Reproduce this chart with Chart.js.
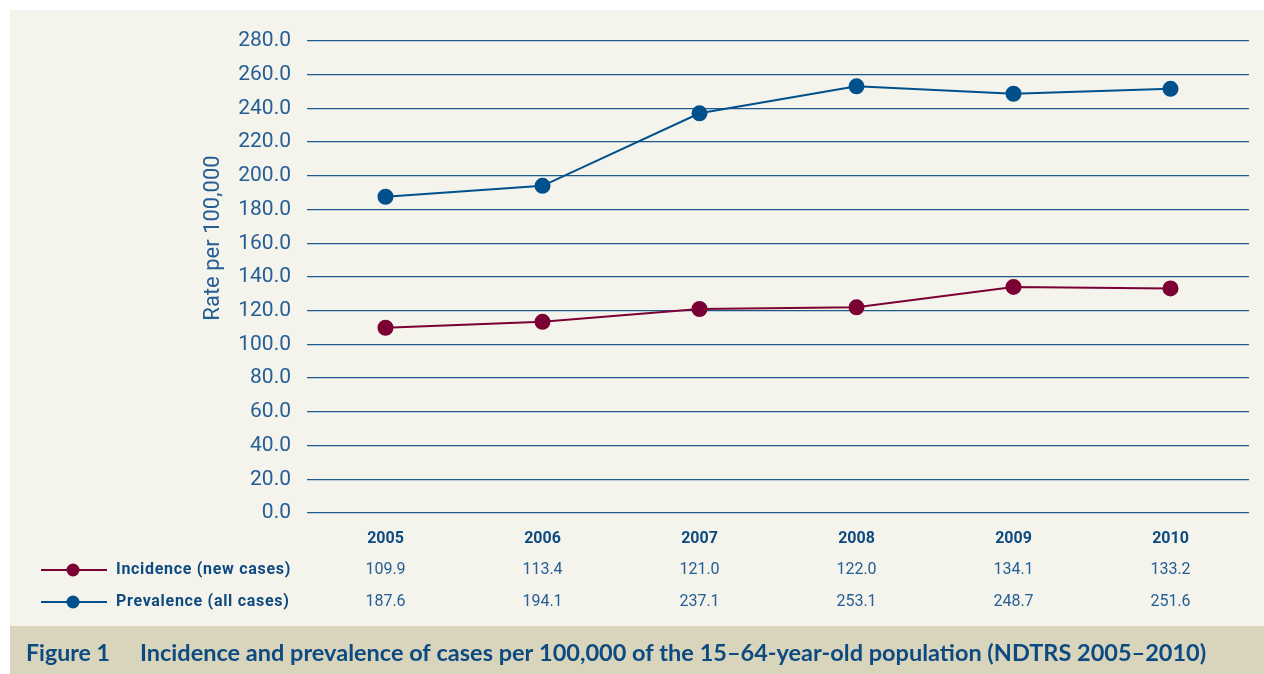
<!DOCTYPE html>
<html>
<head>
<meta charset="utf-8">
<script src="https://cdn.jsdelivr.net/npm/chart.js@4.4.1/dist/chart.umd.min.js"></script>
<style>
  html, body { margin: 0; padding: 0; background: #ffffff; }
  #wrap { width: 1264px; height: 674px; position: relative; }
</style>
</head>
<body>
<div id="wrap"><canvas id="rateChart"></canvas></div>
<script>
// Chart data
const years = ['2005', '2006', '2007', '2008', '2009', '2010'];
const incidence = [109.9, 113.4, 121.0, 122.0, 134.1, 133.2];
const prevalence = [187.6, 194.1, 237.1, 253.1, 248.7, 251.6];
const seriesNames = ['Incidence (new cases)', 'Prevalence (all cases)'];
const yTitle = 'Rate per 100,000';
const caption = ['Figure 1', 'Incidence and prevalence of cases per 100,000 of the 15\u201364-year-old population (NDTRS 2005\u20132010)'];

const RED = '#7b0033';
const BLUE = '#00508c';
const TEXT = '#0d4a80';
const TICK = '#245e95';

// Panel, caption bar, axis title and data table under the plot
const framePlugin = {
    id: 'frame',
    beforeDraw(chart) {
        const ctx = chart.ctx;
        ctx.save();
        ctx.fillStyle = '#f4f3ec';
        ctx.fillRect(10, 10, 1254, 616);
        ctx.fillStyle = '#d9d5bd';
        ctx.fillRect(10, 626, 1254, 48);
        ctx.restore();
    },
    afterDraw(chart) {
        const ctx = chart.ctx;
        const x = chart.scales.x;
        const rowY = [570, 602];
        ctx.save();

        // rotated y title
        ctx.translate(213, 238);
        ctx.rotate(-Math.PI / 2);
        ctx.fillStyle = TICK;
        ctx.font = '22px Roboto';
        ctx.textAlign = 'center';
        ctx.textBaseline = 'middle';
        ctx.fillText(yTitle, 0, 0);
        ctx.setTransform(1, 0, 0, 1, 0, 0);
        ctx.scale(chart.currentDevicePixelRatio, chart.currentDevicePixelRatio);

        // legend rows + values
        chart.data.datasets.forEach((ds, d) => {
            const y = rowY[d];
            ctx.strokeStyle = ds.borderColor;
            ctx.lineWidth = 2;
            ctx.beginPath();
            ctx.moveTo(41, y);
            ctx.lineTo(107, y);
            ctx.stroke();
            ctx.fillStyle = ds.borderColor;
            ctx.beginPath();
            ctx.arc(73, y, 6.5, 0, Math.PI * 2);
            ctx.fill();

            ctx.fillStyle = TEXT;
            ctx.font = 'bold 16px Roboto';
            ctx.letterSpacing = '0.7px';
            ctx.textAlign = 'left';
            ctx.textBaseline = 'middle';
            ctx.fillText(ds.label, 116, y);
            ctx.letterSpacing = '0px';

            ctx.fillStyle = TICK;
            ctx.font = '16px Roboto';
            ctx.textAlign = 'center';
            ds.data.forEach((v, i) => {
                ctx.fillText(v.toFixed(1), x.getPixelForValue(i), y);
            });
        });

        // caption
        ctx.fillStyle = TEXT;
        ctx.font = 'bold 23.5px Lato';
        ctx.textAlign = 'left';
        ctx.textBaseline = 'middle';
        ctx.fillText(caption[0], 26, 653, 84);
        ctx.fillText(caption[1], 140, 653, 1070);
        ctx.restore();
    }
};

new Chart(document.getElementById('rateChart'), {
    type: 'line',
    data: {
        labels: years,
        datasets: [{
            label: seriesNames[0],
            data: incidence,
            borderColor: RED,
            backgroundColor: RED,
            borderWidth: 2,
            pointRadius: 7,
            pointHoverRadius: 7,
            tension: 0
        }, {
            label: seriesNames[1],
            data: prevalence,
            borderColor: BLUE,
            backgroundColor: BLUE,
            borderWidth: 2,
            pointRadius: 7,
            pointHoverRadius: 7,
            tension: 0
        }]
    },
    options: {
        responsive: true,
        maintainAspectRatio: false,
        animation: false,
        layout: { padding: { top: 41, right: 15, left: 0, bottom: 0 } },
        scales: {
            x: {
                offset: true,
                grid: { display: false, drawTicks: false },
                border: { display: false },
                ticks: {
                    color: TEXT,
                    padding: 16,
                    font: { family: 'Roboto', size: 16, weight: 'bold' }
                },
                afterFit(scale) { scale.height = 161; }
            },
            y: {
                min: 0,
                max: 280,
                grid: { color: '#1f5a8e', lineWidth: 1.3, drawTicks: false },
                border: { display: false },
                ticks: {
                    stepSize: 20,
                    color: TICK,
                    padding: 16,
                    font: { family: 'Roboto', size: 21 },
                    callback: v => v.toFixed(1)
                },
                afterFit(scale) { scale.width = 307; }
            }
        },
        plugins: {
            legend: { display: false },
            tooltip: { enabled: false }
        }
    },
    plugins: [framePlugin]
});
</script>
</body>
</html>
